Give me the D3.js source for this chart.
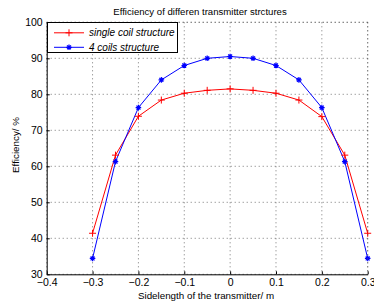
<!DOCTYPE html>
<html>
<head>
<meta charset="utf-8">
<script src="https://cdn.jsdelivr.net/npm/d3@7"></script>
<style>
  body { margin: 0; background: #fff; }
  text { font-family: "Liberation Sans", Arial, sans-serif; fill: #000; }
</style>
</head>
<body>
<svg id="canvas" width="374" height="304"></svg>
<script>
const xValues = [-0.3, -0.25, -0.2, -0.15, -0.1, -0.05, 0, 0.05, 0.1, 0.15, 0.2, 0.25, 0.3];
const singleCoil = [41.4, 63.1, 73.9, 78.4, 80.3, 81.1, 81.5, 81.1, 80.3, 78.4, 73.8, 63.1, 41.4];
const fourCoils = [34.4, 61.3, 76.3, 84.0, 88.0, 90.0, 90.5, 90.0, 88.0, 84.0, 76.3, 61.3, 34.4];
const xTicks = [-0.4, -0.3, -0.2, -0.1, 0, 0.1, 0.2, 0.3];
const yTicks = [30, 40, 50, 60, 70, 80, 90, 100];
const seriesNames = ['single coil structure', '4 coils structure'];

const plotL = 46.7, plotR = 367.7, plotT = 22.3, plotB = 274.3;
const svg = d3.select('#canvas');

const x = d3.scaleLinear().domain([-0.4, 0.3]).range([plotL, plotR]);
const y = d3.scaleLinear().domain([30, 100]).range([plotB, plotT]);

// grid
svg.append('g').selectAll('line').data(xTicks).enter().append('line')
  .attr('x1', d => x(d)).attr('x2', d => x(d))
  .attr('y1', plotT).attr('y2', plotB)
  .attr('stroke', '#555').attr('stroke-width', 0.8).attr('stroke-dasharray', '1,3');
svg.append('g').selectAll('line').data(yTicks).enter().append('line')
  .attr('x1', plotL).attr('x2', plotR)
  .attr('y1', d => y(d)).attr('y2', d => y(d))
  .attr('stroke', '#555').attr('stroke-width', 0.8).attr('stroke-dasharray', '1,3');

// axes
const xAxis = d3.axisBottom(x).tickValues(xTicks).tickSizeInner(-3).tickSizeOuter(0)
  .tickPadding(5).tickFormat(d => d === 0 ? '0' : d3.format('.1f')(d));
const gx = svg.append('g').attr('transform', `translate(0,${plotB})`).call(xAxis);
const yAxis = d3.axisLeft(y).tickValues(yTicks).tickSizeInner(-3).tickSizeOuter(0).tickPadding(4);
const gy = svg.append('g').attr('transform', `translate(${plotL},0)`).call(yAxis);
[gx, gy].forEach(g => {
  g.select('.domain').attr('stroke', '#000');
  g.selectAll('.tick line').attr('stroke', '#000');
  g.selectAll('.tick text').style('font-size', '10.5px').style('font-family', '"Liberation Sans", Arial, sans-serif');
});
gx.selectAll('.tick text').attr('dy', '0.6em');

const line = d3.line().x((d, i) => x(xValues[i])).y(d => y(d));
svg.append('path').datum(singleCoil).attr('d', line)
  .attr('fill', 'none').attr('stroke', '#ff0000').attr('stroke-width', 1);
svg.append('path').datum(fourCoils).attr('d', line)
  .attr('fill', 'none').attr('stroke', '#0000ff').attr('stroke-width', 1);

function plus(g, cx, cy, s, color) {
  g.append('path').attr('d', `M${cx - s},${cy}H${cx + s}M${cx},${cy - s}V${cy + s}`)
    .attr('stroke', color).attr('stroke-width', 1).attr('fill', 'none');
}
function star(g, cx, cy, s, color) {
  const d = s * 0.7;
  g.append('path').attr('d', `M${cx - s},${cy}H${cx + s}M${cx},${cy - s}V${cy + s}` +
      `M${cx - d},${cy - d}L${cx + d},${cy + d}M${cx - d},${cy + d}L${cx + d},${cy - d}`)
    .attr('stroke', color).attr('stroke-width', 1.2).attr('fill', 'none');
}

const marks = svg.append('g');
singleCoil.forEach((v, i) => plus(marks, x(xValues[i]), y(v), 3.5, '#ff0000'));
fourCoils.forEach((v, i) => star(marks, x(xValues[i]), y(v), 2.8, '#0000ff'));

// box top and right
svg.append('line').attr('x1', plotL).attr('x2', plotR).attr('y1', plotT).attr('y2', plotT)
  .attr('stroke', '#555').attr('stroke-width', 0.8).attr('stroke-dasharray', '1,3');
svg.append('line').attr('x1', plotR).attr('x2', plotR).attr('y1', plotT).attr('y2', plotB)
  .attr('stroke', '#555').attr('stroke-width', 0.8).attr('stroke-dasharray', '1,3');

// legend
const lg = svg.append('g');
lg.append('rect').attr('x', 47.5).attr('y', 22.5).attr('width', 130).attr('height', 30)
  .attr('fill', '#fff').attr('stroke', '#000').attr('stroke-width', 1);
const colors = ['#ff0000', '#0000ff'];
seriesNames.forEach((name, i) => {
  const cy = 32.8 + i * 14.5;
  lg.append('line').attr('x1', 54).attr('x2', 84).attr('y1', cy).attr('y2', cy)
    .attr('stroke', colors[i]).attr('stroke-width', 1);
  if (i === 0) plus(lg, 69, cy, 3.5, colors[i]); else star(lg, 69, cy, 2.8, colors[i]);
  lg.append('text').attr('x', 89).attr('y', cy + 3.6).text(name)
    .style('font-size', '10px').style('font-style', 'italic');
});

// titles
svg.append('text').attr('x', 200).attr('y', 15).attr('text-anchor', 'middle')
  .style('font-size', '9.6px').text('Efficiency of differen transmitter strctures');
svg.append('text').attr('x', 206).attr('y', 299).attr('text-anchor', 'middle')
  .style('font-size', '9.8px').text('Sidelength of the transmitter/ m');
svg.append('text').attr('transform', 'translate(19,145) rotate(-90)').attr('text-anchor', 'middle')
  .style('font-size', '9.8px').text('Efficiency/ %');
</script>
</body>
</html>
